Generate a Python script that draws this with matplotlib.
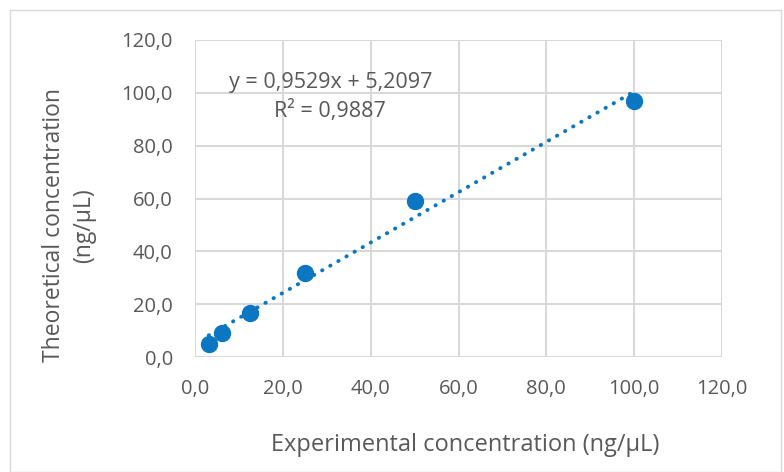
import matplotlib
matplotlib.use("Agg")
import matplotlib.pyplot as plt
from matplotlib.patches import Rectangle
import numpy as np

# data
experimental = [3.125, 6.25, 12.5, 25.0, 50.0, 100.0]
theoretical = [5.0, 9.1, 16.6, 31.8, 59.0, 97.0]
slope = 0.9529
intercept = 5.2097
r_squared = 0.9887
ticks = [0, 20, 40, 60, 80, 100, 120]

blue = "#0B77C2"
grey = "#595959"
grid_col = "#D9D9D9"
font = "Open Sans"


def comma(v, digits):
    return f"{v:.{digits}f}".replace(".", ",")


fig = plt.figure(figsize=(7.84, 4.72), dpi=100)
fig.patch.set_facecolor("white")
fig.add_artist(Rectangle((10 / 784, 0.0), 771 / 784, 462 / 472, transform=fig.transFigure,
                         fill=False, edgecolor="#D9D9D9", linewidth=1.0))

ax = fig.add_axes([195 / 784, 115 / 472, 527 / 784, 317 / 472])
ax.set_xlim(0, 120)
ax.set_ylim(0, 120)

# linear trendline (Excel fit shown on the chart)
xs = np.array([min(experimental), max(experimental)])
ax.plot(xs, slope * xs + intercept, color=blue, linewidth=2.8,
        linestyle=(0, (0.1, 2.3)), dash_capstyle="round", zorder=2)
ax.plot(experimental, theoretical, "o", color=blue, markersize=11.5, zorder=3)

ax.set_xticks(ticks)
ax.set_yticks(ticks)
ax.set_xticklabels([comma(t, 1) for t in ticks], family=font, fontsize=14.5, color=grey)
ax.set_yticklabels([comma(t, 1) for t in ticks], family=font, fontsize=14.5, color=grey)
ax.tick_params(axis="x", length=0, pad=16)
ax.tick_params(axis="y", length=0, pad=16)
ax.grid(True, color=grid_col, linewidth=1.5)
ax.set_axisbelow(True)
for s in ax.spines.values():
    s.set_visible(False)

ax.text(0.258, 0.867, f"y = {comma(slope, 4)}x + {comma(intercept, 4)}",
        transform=ax.transAxes, ha="center", va="center", family=font, fontsize=15.5, color=grey)
ax.text(0.256, 0.776, f"R² = {comma(r_squared, 4)}",
        transform=ax.transAxes, ha="center", va="center", family=font, fontsize=15.5, color=grey)

fig.text(0.593, 0.057, "Experimental concentration (ng/µL)", ha="center", va="center",
         family=font, fontsize=17, color=grey)
fig.text(69 / 784, 0.523, "Theoretical concentration\n(ng/µL)", ha="center", va="center",
         rotation=90, family=font, fontsize=16.5, color=grey, linespacing=1.3)

fig.savefig("out.png", dpi=100)
